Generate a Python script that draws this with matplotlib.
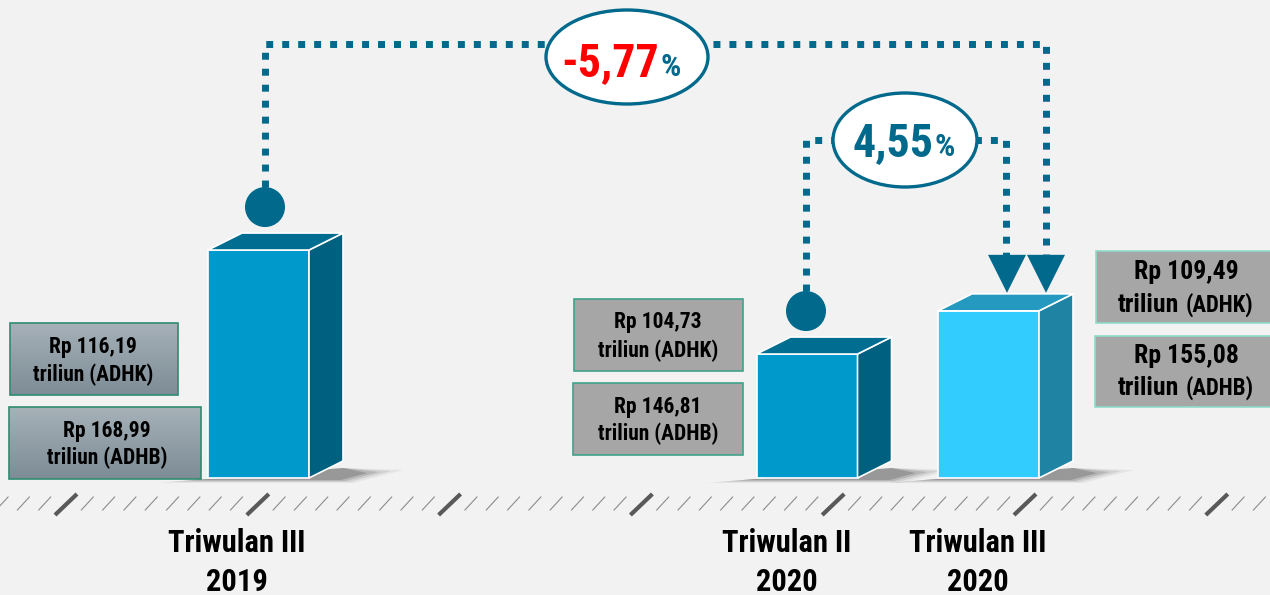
import numpy as np
import matplotlib
matplotlib.use('Agg')
import matplotlib.pyplot as plt
from matplotlib.patches import Polygon, Rectangle, Ellipse, Circle
from matplotlib.colors import LinearSegmentedColormap

plt.rcParams['font.family'] = ['Roboto Condensed', 'Liberation Sans', 'DejaVu Sans']

# data
periods = ['Triwulan III\n2019', 'Triwulan II\n2020', 'Triwulan III\n2020']
adhk = [116.19, 104.73, 109.49]
adhb = [168.99, 146.81, 155.08]
growth_yoy = '-5,77'   # Q3 2020 vs Q3 2019
growth_qoq = '4,55'    # Q3 2020 vs Q2 2020

front_cols = ['#0099CB', '#0099CB', '#33CCFF']
side_cols = ['#00607F', '#00607F', '#1F84A3']
top_cols = ['#006D91', '#006D91', '#2599BF']
teal = '#00698C'

W, H = 1270, 595
# value axis scale (px per unit) and baseline value
base_px, k, base_v = 478, 9.075, 91.07


def py(v):
    return base_px - k * (v - base_v)


fig = plt.figure(figsize=(W / 100, H / 100), dpi=100)
fig.patch.set_facecolor('#F2F2F2')

bg = fig.add_axes([0, 0, 1, 1])
bg.set_xlim(0, W)
bg.set_ylim(H, 0)
bg.axis('off')

ax = fig.add_axes([0, 0, 1, 1])
ax.set_xlim(0, W)
ax.set_ylim(base_v - (H - base_px) / k, base_v + base_px / k)
ax.axis('off')
ax.patch.set_visible(False)

# bars (3D look)
xc = [258.5, 807, 988.5]
bw = 101
dx, dy = 34, 17 / k
ax.bar(xc, np.array(adhk) - base_v, bottom=base_v, width=bw, color=front_cols,
       edgecolor='white', linewidth=1.2, zorder=3)
for i, v in enumerate(adhk):
    x0, x1 = xc[i] - bw / 2, xc[i] + bw / 2
    ax.add_patch(Polygon([(x1, base_v), (x1 + dx, base_v + dy), (x1 + dx, v + dy), (x1, v)],
                         closed=True, fc=side_cols[i], ec='white', lw=1.2, zorder=3))
    ax.add_patch(Polygon([(x0, v), (x1, v), (x1 + dx, v + dy), (x0 + dx, v + dy)],
                         closed=True, fc=top_cols[i], ec='white', lw=1.2, zorder=3))
    # soft shadow behind the bar foot
    for j, a in enumerate([0.08, 0.12, 0.18, 0.25]):
        bg.add_patch(Polygon([(x0 - 50 + 12 * j, base_px + 5 - j), (x1 + dx + 10 - 4 * j, base_px + 5 - j),
                              (x1 + dx + 60 - 12 * j, base_px - 8 + j), (x1 + dx, base_px - 10)],
                             closed=True, fc='#404040', ec='none', alpha=a, zorder=1))

# ground slashes
thick0, step = 66, 191.8 / 9
n = 0
x = thick0 - 3 * step
while x < W + 10:
    if n % 9 == 3:
        bg.plot([x - 11, x + 11], [515, 494], color='#595959', lw=3, solid_capstyle='butt', zorder=2)
    else:
        bg.plot([x - 6, x + 6], [510, 497], color='#8C8C8C', lw=0.8, zorder=2)
    x += step
    n += 1

# period labels
label_x = [237, 787, 978]
for lx, lab in zip(label_x, periods):
    l1, l2 = lab.split('\n')
    bg.text(lx, 543, l1, ha='center', va='center', fontsize=22, fontweight='bold', color='black')
    bg.text(lx, 582, l2, ha='center', va='center', fontsize=22, fontweight='bold', color='black')

# dotted connectors
dot_kw = dict(color=teal, lw=5, dashes=(1, 1.3), solid_capstyle='butt', zorder=2)
c1 = py(adhk[0]) - 43
c2 = py(adhk[1]) - 43
tip = py(adhk[2]) - 18
bg.add_patch(Circle((265, c1), 20, fc=teal, ec='none', zorder=3))
bg.add_patch(Circle((806, c2), 20, fc=teal, ec='none', zorder=3))
bg.plot([265, 265, 1046, 1046], [c1 - 20, 44, 44, tip - 38], **dot_kw)
bg.plot([806, 806, 1006, 1006], [c2 - 20, 140, 140, tip - 38], **dot_kw)
for ax_x in [1007, 1046]:
    bg.add_patch(Polygon([(ax_x - 19, tip - 38), (ax_x + 19, tip - 38), (ax_x, tip)],
                         closed=True, fc=teal, ec='none', zorder=4))

# growth ellipses
bg.add_patch(Ellipse((627, 57), 162, 94, fc='white', ec=teal, lw=2.4, zorder=5))
bg.text(659, 76, growth_yoy, ha='right', va='baseline', fontsize=33, fontweight='bold',
        color='#FF0000', zorder=6)
bg.text(661, 76, '%', ha='left', va='baseline', fontsize=23, fontweight='bold', color=teal, zorder=6)
bg.add_patch(Ellipse((905, 140), 144, 94, fc='white', ec=teal, lw=2.4, zorder=5))
bg.text(933, 156, growth_qoq, ha='right', va='baseline', fontsize=33, fontweight='bold',
        color=teal, zorder=6)
bg.text(935, 156, '%', ha='left', va='baseline', fontsize=23, fontweight='bold', color=teal, zorder=6)


def fmt(v):
    return f'{v:.2f}'.replace('.', ',')


# value boxes
grad = np.linspace(0, 1, 64).reshape(-1, 1)
gcmap = LinearSegmentedColormap.from_list('g', ['#A6B1B8', '#7D8C96'])
boxes = [
    # (x, y, w, h, value, kind, period index, text x, line y1, line y2)
    (10, 323, 168, 72, adhk[0], 'ADHK', 0, 93, 347, 375),
    (9, 407, 192, 72, adhb[0], 'ADHB', 0, 107, 431, 458),
    (574, 299, 169, 72, adhk[1], 'ADHK', 1, 658, 322, 351),
    (573, 383, 170, 72, adhb[1], 'ADHB', 1, 658, 407, 434),
    (1096, 251, 185, 72, adhk[2], 'ADHK', 2, 1186, 272, 305),
    (1095, 336, 185, 71, adhb[2], 'ADHB', 2, 1186, 356, 388),
]
for bx, by, bwid, bh, val, kind, pi, tx, ly1, ly2 in boxes:
    if pi == 0:
        rect = Rectangle((bx, by), bwid, bh, fc='none', ec='#2E8B6F', lw=1.2, zorder=4)
        im = bg.imshow(grad, extent=(bx, bx + bwid, by + bh, by), cmap=gcmap, aspect='auto', zorder=3)
        bg.add_patch(rect)
        im.set_clip_path(rect)
        fs = 15.5
    else:
        ec = '#3FA38A' if pi == 1 else '#8FDCC8'
        bg.add_patch(Rectangle((bx, by), bwid, bh, fc='#A6A6A6', ec=ec, lw=1.2, zorder=3))
        fs = 15.5 if pi == 1 else 18.5
    bg.text(tx, ly1, f'Rp {fmt(val)}', ha='center', va='center', fontsize=fs,
            fontweight='bold', color='black', zorder=5)
    if pi == 2:
        bg.text(tx - 7, ly2, 'triliun', ha='right', va='center', fontsize=fs,
                fontweight='bold', color='black', zorder=5)
        bg.text(tx, ly2, f'({kind})', ha='left', va='center', fontsize=16.5,
                fontweight='bold', color='black', zorder=5)
    else:
        bg.text(tx, ly2, f'triliun ({kind})', ha='center', va='center', fontsize=fs,
                fontweight='bold', color='black', zorder=5)

bg.set_xlim(0, W)
bg.set_ylim(H, 0)
plt.savefig('out.png', dpi=100, facecolor=fig.get_facecolor())
